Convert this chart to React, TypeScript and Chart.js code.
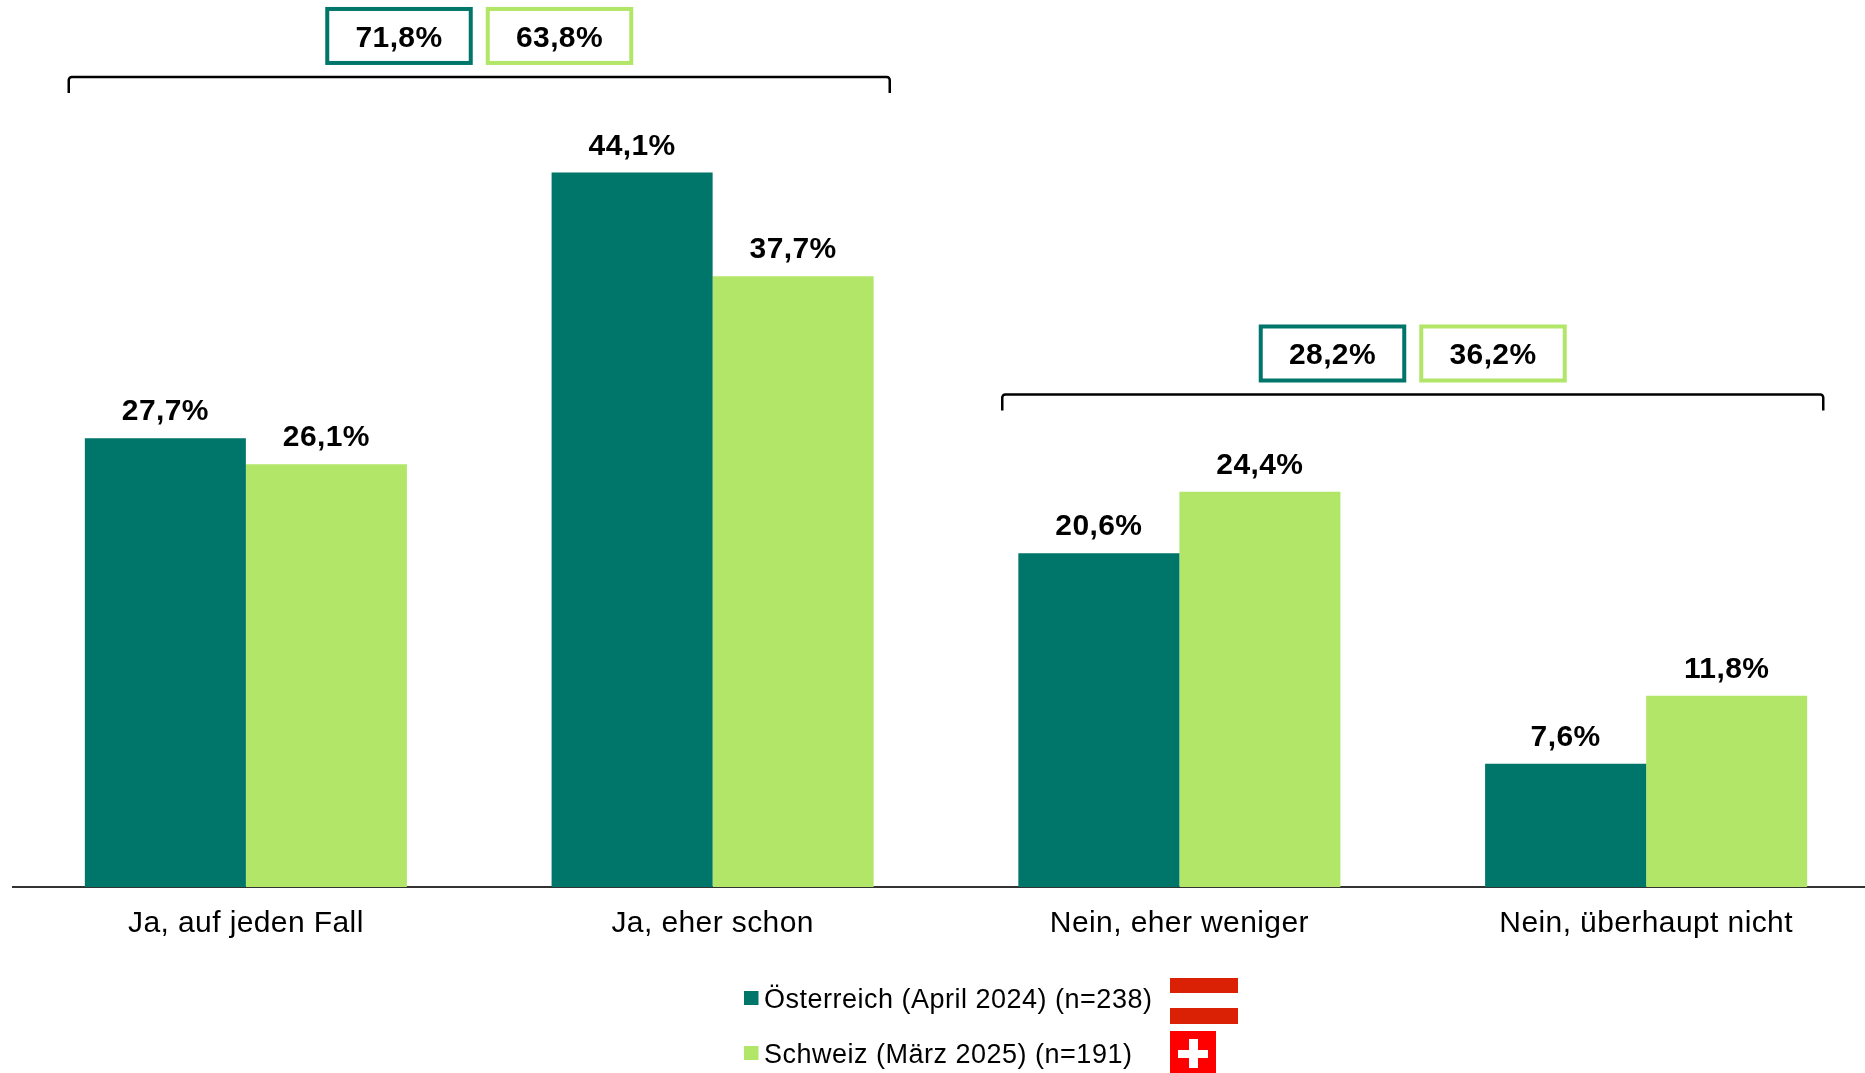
import React, { useEffect, useRef } from "react";
import { Chart, registerables } from "chart.js";

Chart.register(...registerables);

const categories = ["Ja, auf jeden Fall", "Ja, eher schon", "Nein, eher weniger", "Nein, überhaupt nicht"];
const austria = [27.7, 44.1, 20.6, 7.6];
const switzerland = [26.1, 37.7, 24.4, 11.8];
const seriesLabels = ["Österreich (April 2024) (n=238)", "Schweiz (März 2025) (n=191)"];
const summaryAustria = ["71,8%", "28,2%"];
const summarySwitzerland = ["63,8%", "36,2%"];
const summaryLevels = [50, 30.4];
const summaryCategoryPairs = [[0, 1], [2, 3]];

const TEAL = "#00756A";
const GREEN = "#B2E668";
const FONT = '"Liberation Sans", Arial, sans-serif';
const SPACING = "0.4px";
const fmt = (v: number) => v.toFixed(1).replace(".", ",") + "%";

const spacingPlugin = {
  id: "spacing",
  beforeDraw(chart: any) {
    chart.ctx.letterSpacing = SPACING;
  },
};

const annotationPlugin = {
  id: "annotations",
  afterDatasetsDraw(chart: any) {
    const { ctx, scales } = chart;
    const x = scales.x;
    const y = scales.y;
    ctx.save();
    ctx.letterSpacing = SPACING;
    ctx.fillStyle = "#000";
    ctx.textAlign = "center";
    ctx.textBaseline = "alphabetic";
    ctx.font = `bold 30px ${FONT}`;
    chart.data.datasets.forEach((ds: any, di: number) => {
      chart.getDatasetMeta(di).data.forEach((bar: any, i: number) => {
        ctx.fillText(fmt(ds.data[i]), bar.x, bar.y - 18);
      });
    });

    summaryLevels.forEach((level, i) => {
      const [a, b] = summaryCategoryPairs[i];
      const cx = (x.getPixelForValue(a) + x.getPixelForValue(b)) / 2;
      const top = y.getPixelForValue(level);
      const halfW = 410.5;
      ctx.beginPath();
      ctx.strokeStyle = "#000";
      ctx.lineWidth = 2.5;
      ctx.moveTo(cx - halfW, top + 16);
      ctx.lineTo(cx - halfW, top + 3);
      ctx.arcTo(cx - halfW, top, cx - halfW + 3, top, 3);
      ctx.lineTo(cx + halfW - 3, top);
      ctx.arcTo(cx + halfW, top, cx + halfW, top + 3, 3);
      ctx.lineTo(cx + halfW, top + 16);
      ctx.stroke();

      const boxes = [
        { text: summaryAustria[i], color: TEAL, left: cx - 154 },
        { text: summarySwitzerland[i], color: GREEN, left: cx + 6.5 },
      ];
      boxes.forEach((box) => {
        const w = 147.5;
        const h = 58;
        const bt = top - 70;
        ctx.strokeStyle = box.color;
        ctx.lineWidth = 4;
        ctx.strokeRect(box.left + 2, bt + 2, w - 4, h - 4);
        ctx.fillStyle = "#000";
        ctx.font = `bold 30px ${FONT}`;
        ctx.textAlign = "center";
        ctx.fillText(box.text, box.left + w / 2, bt + 40);
      });
    });

    // Legend
    ctx.textAlign = "left";
    ctx.font = `27px ${FONT}`;
    ctx.letterSpacing = "0.5px";
    const legendRows = [
      { y: 1008, color: TEAL },
      { y: 1063, color: GREEN },
    ];
    legendRows.forEach((row, i) => {
      ctx.fillStyle = row.color;
      ctx.fillRect(744, row.y - 17, 14.5, 14);
      ctx.fillStyle = "#000";
      ctx.fillText(seriesLabels[i], 764, row.y);
    });

    // Flags
    ctx.fillStyle = "#DA2106";
    ctx.fillRect(1170, 978, 68, 15);
    ctx.fillRect(1170, 1008, 68, 16);
    ctx.fillStyle = "#FF0000";
    ctx.fillRect(1170, 1031, 46, 42);
    ctx.fillStyle = "#FFFFFF";
    ctx.fillRect(1178, 1050, 30, 8);
    ctx.fillRect(1189, 1039, 9, 29);
    ctx.restore();
  },
};

export default function App() {
  const ref = useRef<HTMLCanvasElement>(null);
  useEffect(() => {
    document.body.style.margin = "0";
    const chart = new Chart(ref.current as HTMLCanvasElement, {
      type: "bar",
      data: {
        labels: categories,
        datasets: [
          { label: seriesLabels[0], data: austria, backgroundColor: TEAL },
          { label: seriesLabels[1], data: switzerland, backgroundColor: GREEN },
        ],
      },
      options: {
        animation: false,
        responsive: false,
        layout: { padding: { left: 12.5, right: 0.5, top: 0, bottom: 0 } },
        datasets: { bar: { categoryPercentage: 0.69, barPercentage: 1 } },
        plugins: { legend: { display: false }, tooltip: { enabled: false }, title: { display: false } },
        scales: {
          x: {
            grid: { display: false, drawTicks: false },
            border: { display: true, color: "#333333", width: 2 },
            ticks: { color: "#000", padding: 19, maxRotation: 0, font: { family: FONT, size: 30 } },
            afterFit: (s: any) => { s.height = 186; },
          },
          y: { display: false, min: 0, max: 54.75 },
        },
      },
      plugins: [spacingPlugin, annotationPlugin],
    } as any);
    return () => chart.destroy();
  }, []);
  return (
    <div style={{ position: "fixed", left: 0, top: 0, width: 1865, height: 1073, overflow: "hidden", background: "#fff" }}>
      <canvas ref={ref} width={1880} height={1073} style={{ display: "block" }} />
    </div>
  );
}
